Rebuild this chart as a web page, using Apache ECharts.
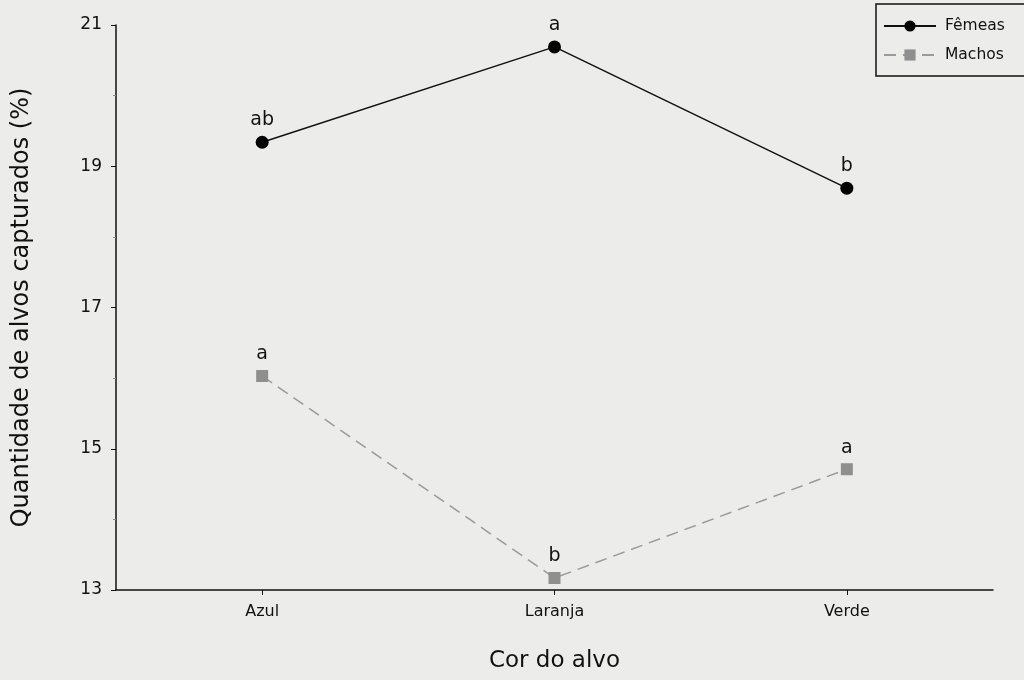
<!DOCTYPE html>
<html><head><meta charset="utf-8">
<script src="https://cdn.jsdelivr.net/npm/echarts@6/dist/echarts.min.js"></script>
<style>html,body{margin:0;padding:0;background:#ecedea;}#c{width:1024px;height:680px;}</style>
</head><body><div id="c"></div>
<script>
var categories = ['Azul', 'Laranja', 'Verde'];
var femeas = [19.34, 20.69, 18.69];
var machos = [16.03, 13.17, 14.71];
var femeasLetters = ['ab', 'a', 'b'];
var machosLetters = ['a', 'b', 'a'];
var yTicks = [13, 15, 17, 19, 21];

var font = 'DejaVu Sans';
var chart = echarts.init(document.getElementById('c'));
chart.setOption({
  backgroundColor: '#ecedea',
  animation: false,
  textStyle: {fontFamily: font},
  legend: {
    left: 876, top: 4, orient: 'vertical',
    itemWidth: 52, itemHeight: 14, itemGap: 13,
    padding: [14, 40, 13, 7],
    borderColor: '#111', borderWidth: 1.5,
    backgroundColor: '#ecedea',
    textStyle: {fontSize: 15.5, color: '#111', fontFamily: font, padding: [0, 0, 0, 4]},
    data: ['Fêmeas', 'Machos']
  },
  grid: {left: 116, top: 25, right: 31, bottom: 90},
  xAxis: {
    type: 'category', data: categories, boundaryGap: true,
    name: 'Cor do alvo', nameLocation: 'middle', nameGap: 60,
    nameTextStyle: {fontSize: 23, color: '#111', fontFamily: font},
    axisLine: {lineStyle: {color: '#111', width: 1.5}},
    axisTick: {show: true, alignWithLabel: true, length: 5, lineStyle: {color: '#111'}},
    axisLabel: {fontSize: 16, color: '#111', margin: 14, fontFamily: font},
    splitLine: {show: false}
  },
  yAxis: {
    type: 'value', min: 13, max: 21, interval: 2,
    name: 'Quantidade de alvos capturados (%)', nameLocation: 'middle', nameGap: 82,
    nameTextStyle: {fontSize: 24, color: '#111', fontFamily: font},
    axisLine: {show: true, lineStyle: {color: '#111', width: 1.5}},
    axisTick: {show: true, length: 5, lineStyle: {color: '#111'}},
    minorTick: {show: true, splitNumber: 2, length: 3, lineStyle: {color: '#888'}},
    axisLabel: {fontSize: 17, color: '#111', margin: 14, fontFamily: font,
      formatter: function (v) { return yTicks.indexOf(v) >= 0 ? String(v) : ''; }},
    splitLine: {show: false}
  },
  series: [
    {
      name: 'Fêmeas', type: 'line', data: femeas,
      symbol: 'circle', symbolSize: 13,
      lineStyle: {color: '#111', width: 1.5},
      itemStyle: {color: '#000'},
      label: {show: true, position: 'top', distance: 6, fontSize: 19, color: '#111', fontFamily: font,
        formatter: function (p) { return femeasLetters[p.dataIndex]; }}
    },
    {
      name: 'Machos', type: 'line', data: machos,
      symbol: 'rect', symbolSize: 12,
      lineStyle: {color: '#9a9a9a', width: 1.5, type: [12, 7]},
      itemStyle: {color: '#8f8f8f'},
      label: {show: true, position: 'top', distance: 6, fontSize: 19, color: '#111', fontFamily: font,
        formatter: function (p) { return machosLetters[p.dataIndex]; }}
    }
  ]
});
</script></body></html>
